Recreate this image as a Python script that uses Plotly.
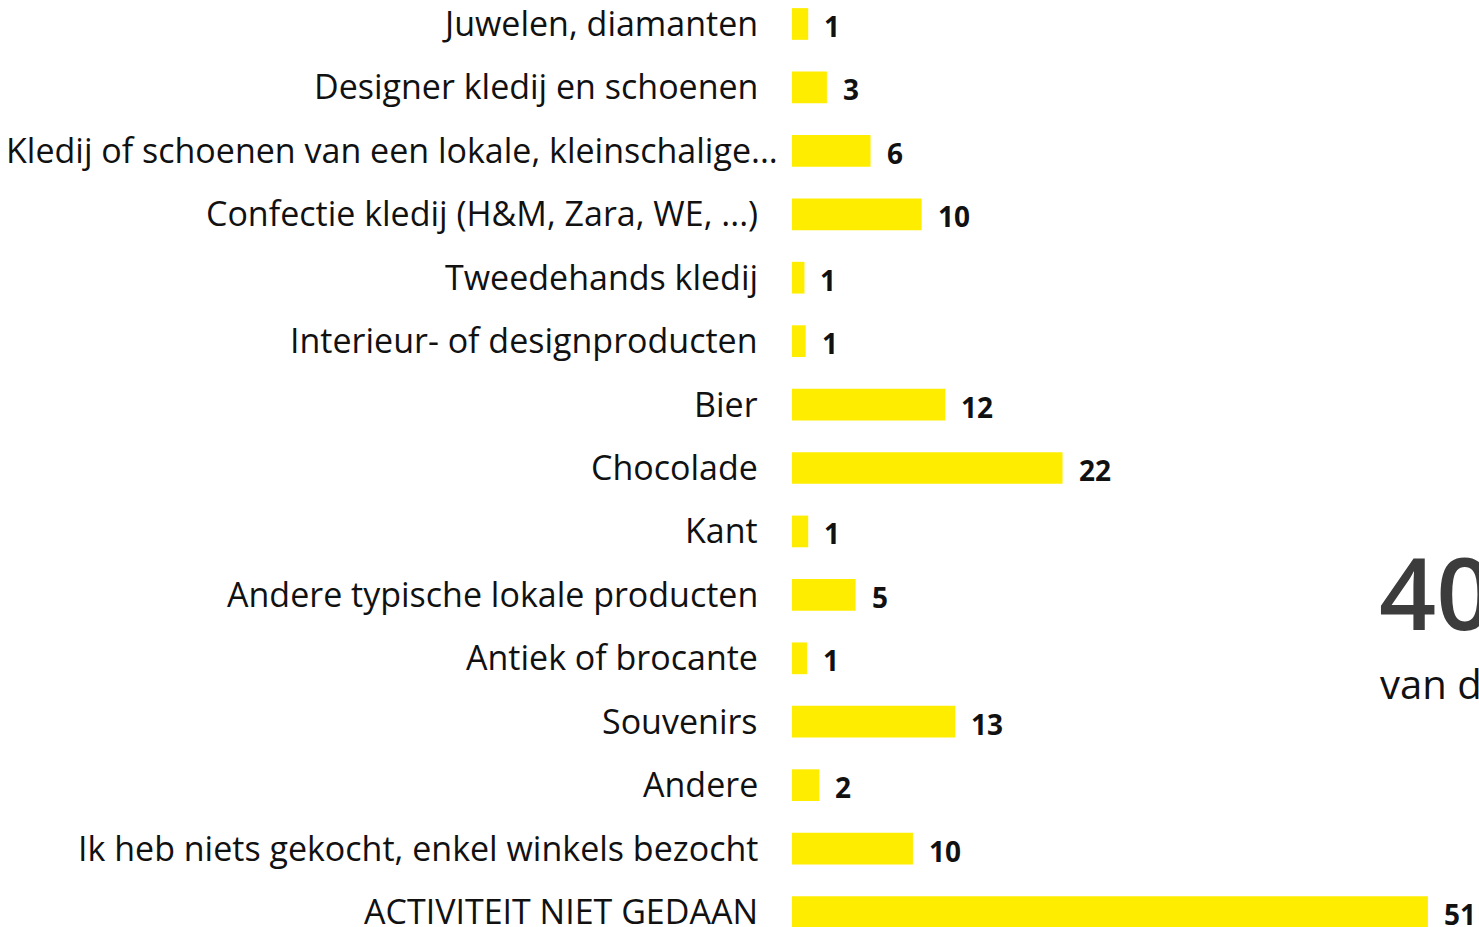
import plotly.graph_objects as go

categories = [
    "Juwelen, diamanten",
    "Designer kledij en schoenen",
    "Kledij of schoenen van een lokale, kleinschalige...",
    "Confectie kledij (H&M, Zara, WE, ...)",
    "Tweedehands kledij",
    "Interieur- of designproducten",
    "Bier",
    "Chocolade",
    "Kant",
    "Andere typische lokale producten",
    "Antiek of brocante",
    "Souvenirs",
    "Andere",
    "Ik heb niets gekocht, enkel winkels bezocht",
    "ACTIVITEIT NIET GEDAAN",
]
values = [1.3, 2.8, 6.3, 10.4, 1.0, 1.1, 12.3, 21.7, 1.3, 5.1, 1.2, 13.1, 2.2, 9.7, 51.0]
value_labels = ["1", "3", "6", "10", "1", "1", "12", "22", "1", "5", "1", "13", "2", "10", "51"]

big_number = "40%"
big_caption = "van de respondenten"

FONT = "Open Sans"
YELLOW = "#FFED00"

fig = go.Figure(
    go.Bar(
        x=values,
        y=categories,
        orientation="h",
        marker=dict(color=YELLOW, line=dict(width=0)),
        hoverinfo="skip",
    )
)

# category labels (right aligned left of the bars; a trailing ellipsis overhangs)
for cat in categories:
    shift = -32 + (20 if cat.endswith("...") else 0)
    fig.add_annotation(
        x=0, y=cat, xref="x", yref="y",
        text=cat, showarrow=False,
        xanchor="right", yanchor="middle", xshift=shift, yshift=1,
        font=dict(family=FONT, size=34, color="#111111"),
    )

for cat, v, lab in zip(categories, values, value_labels):
    fig.add_annotation(
        x=v, y=cat, xref="x", yref="y",
        text=f"<b>{lab}</b>", showarrow=False,
        xanchor="left", yanchor="middle", xshift=14, yshift=-2,
        font=dict(family=FONT, size=28, color="#111111"),
    )

fig.add_annotation(
    x=0.851, y=0.362, xref="paper", yref="paper",
    text=big_number, showarrow=False, xanchor="left", yanchor="middle",
    font=dict(family=FONT, size=100, color="#3c3c3c", weight=600),
)
fig.add_annotation(
    x=0.853, y=0.263, xref="paper", yref="paper",
    text=big_caption, showarrow=False, xanchor="left", yanchor="middle",
    font=dict(family=FONT, size=40, color="#111111"),
)

fig.update_layout(
    width=1479, height=927,
    margin=dict(l=792, r=0, t=0, b=0, autoexpand=False),
    plot_bgcolor="white", paper_bgcolor="white",
    bargap=0.5,
    showlegend=False,
    xaxis=dict(range=[0, 55.1], visible=False, fixedrange=True),
    yaxis=dict(
        type="category",
        range=[14.236, -0.378],
        showgrid=False, zeroline=False, showline=False,
        showticklabels=False, ticks="",
        automargin=False, fixedrange=True,
    ),
)

fig.write_html(
    "out.html",
    config={"displayModeBar": False},
    post_script="document.body.style.margin='0';document.body.style.overflow='hidden';",
)
